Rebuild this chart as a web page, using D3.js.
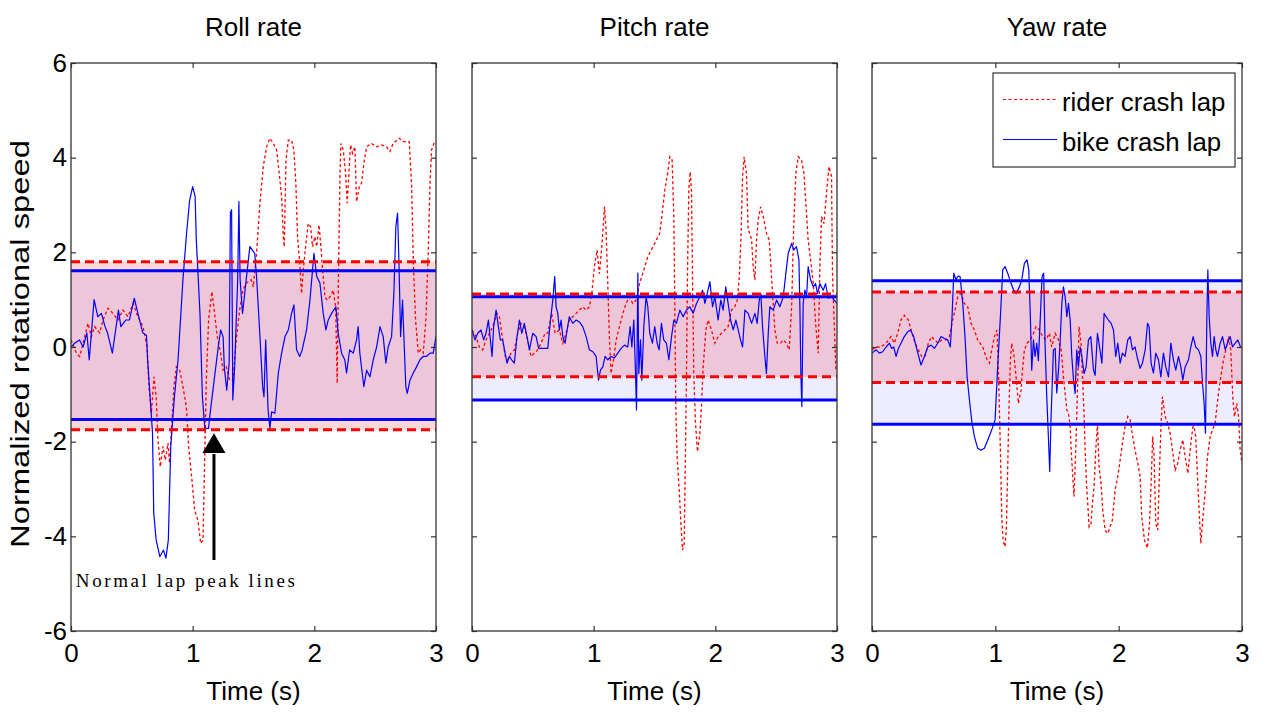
<!DOCTYPE html>
<html><head><meta charset="utf-8">
<script src="https://cdn.jsdelivr.net/npm/d3@7"></script>
<style>
body{margin:0;background:#fff}
svg{display:block}
text{font-family:"Liberation Sans",Arial,Helvetica,sans-serif}
text.serif{font-family:"Liberation Serif","Times New Roman",serif}
</style>
</head><body>
<svg id="chart" width="1268" height="713"></svg>
<script>
// ---------- data ----------
const panelTitles = ["Roll rate", "Pitch rate", "Yaw rate"];
const seriesNames = ["rider crash lap", "bike crash lap"];
const xTicks = [0, 1, 2, 3];
const yTicks = [-6, -4, -2, 0, 2, 4, 6];
const xLabel = "Time (s)";
const yLabel = "Normalized rotational speed";
const annotationText = "Normal lap peak lines";

// normal-lap peak bands [low, high]
const rollRiderBand = [-1.75, 1.80];
const rollBikeBand = [-1.53, 1.61];
const pitchRiderBand = [-0.63, 1.12];
const pitchBikeBand = [-1.12, 1.06];
const yawRiderBand = [-0.75, 1.16];
const yawBikeBand = [-1.63, 1.40];

// [time (s), normalized value]
const rollRider = [[0,0.15],[0.044,-0.13],[0.071,-0.2],[0.099,0.08],[0.14,0.5],[0.167,0.22],[0.194,0.43],[0.236,0.3],[0.263,0.57],[0.304,0.82],[0.345,0.71],[0.386,0.57],[0.427,0.78],[0.468,0.64],[0.51,0.92],[0.55,0.64],[0.592,0.43],[0.625,0],[0.641,-0.84],[0.66,-1.4],[0.682,-0.63],[0.70,-1.05],[0.715,-1.97],[0.734,-2.53],[0.756,-2.1],[0.775,-2.39],[0.797,-2.03],[0.81,-2.45],[0.824,-1.82],[0.846,-0.84],[0.866,-0.42],[0.893,-0.48],[0.92,-0.84],[0.948,-1.26],[0.967,-2.1],[0.994,-2.81],[1.016,-3.44],[1.043,-3.66],[1.066,-4.15],[1.085,-4.08],[1.098,-2.45],[1.112,-0.7],[1.131,0.57],[1.158,1.17],[1.18,0.71],[1.202,0.22],[1.23,-0.13],[1.249,-0.49],[1.276,-0.42],[1.304,-0.7],[1.331,-0.7],[1.358,0.15],[1.386,0.78],[1.413,1.2],[1.44,1.35],[1.481,1.42],[1.498,1.27],[1.525,1.98],[1.553,3.04],[1.58,3.81],[1.608,4.23],[1.635,4.41],[1.663,4.30],[1.69,4.16],[1.717,3.53],[1.731,3.18],[1.745,2.33],[1.753,2.12],[1.767,3.95],[1.786,4.37],[1.813,4.37],[1.832,4.16],[1.849,3.39],[1.862,2.33],[1.88,1.77],[1.895,1.13],[1.909,1.63],[1.928,2.12],[1.95,2.61],[1.97,2.54],[1.985,2.12],[2.005,2.33],[2.02,2.12],[2.038,2.58],[2.052,2.19],[2.068,1.63],[2.087,1.06],[2.106,0.99],[2.128,1.06],[2.155,1.2],[2.175,0.85],[2.188,-0.77],[2.197,1.27],[2.21,3.53],[2.218,4.30],[2.238,4.16],[2.257,3.67],[2.27,3.04],[2.284,3.67],[2.298,4.27],[2.314,4.09],[2.333,4.23],[2.347,3.07],[2.37,3.39],[2.388,3.46],[2.407,3.88],[2.43,4.23],[2.47,4.3],[2.512,4.23],[2.553,4.27],[2.594,4.23],[2.621,4.13],[2.648,4.3],[2.698,4.41],[2.73,4.34],[2.78,4.34],[2.8,3.39],[2.813,1.84],[2.832,0.57],[2.854,-0.13],[2.873,-0.06],[2.895,-0.13],[2.917,0.57],[2.936,1.98],[2.95,3.39],[2.963,4.16],[2.983,4.3],[3.0,4.3]];
const rollBike = [[0,0],[0.03,0.08],[0.07,0.15],[0.10,0],[0.13,0.3],[0.15,-0.27],[0.19,1.0],[0.22,0.64],[0.25,0.71],[0.28,0.43],[0.30,0.3],[0.34,-0.13],[0.39,0.78],[0.41,0.43],[0.45,0.57],[0.48,0.57],[0.52,1.03],[0.55,0.71],[0.59,0.3],[0.62,0.25],[0.63,-0.27],[0.65,-1.05],[0.67,-1.82],[0.68,-3.5],[0.70,-4.08],[0.73,-4.43],[0.76,-4.29],[0.78,-4.46],[0.80,-4.08],[0.82,-2.1],[0.85,-1.05],[0.88,-0.27],[0.92,1.42],[0.95,2.41],[0.975,3.1],[1.00,3.39],[1.02,3.18],[1.03,2.26],[1.06,0.71],[1.08,-1.05],[1.10,-1.72],[1.13,-1.72],[1.15,-1.26],[1.18,-0.63],[1.21,0],[1.23,0.36],[1.25,0.22],[1.26,-0.42],[1.28,-0.91],[1.30,-0.34],[1.31,2.83],[1.32,2.9],[1.33,-1.12],[1.345,-0.42],[1.37,1.42],[1.38,3.07],[1.39,1.42],[1.41,0.71],[1.44,1.42],[1.47,2.12],[1.49,2.05],[1.51,1.98],[1.525,1.49],[1.553,0.22],[1.575,-0.84],[1.586,-1.05],[1.60,0.15],[1.62,-1.33],[1.635,-1.72],[1.649,-1.37],[1.676,-1.4],[1.704,-0.55],[1.731,-0.13],[1.759,0.22],[1.786,0.36],[1.813,0.71],[1.832,0.89],[1.854,-0.06],[1.88,-0.2],[1.90,-0.06],[1.936,0.36],[1.964,0.99],[1.997,1.98],[2.02,1.49],[2.046,1.35],[2.073,0.71],[2.095,0.36],[2.114,0.57],[2.142,0.71],[2.177,0.85],[2.196,0.29],[2.224,-0.13],[2.25,-0.27],[2.265,-0.55],[2.29,-0.06],[2.32,-0.13],[2.347,0.15],[2.36,0.43],[2.374,-0.13],[2.407,-0.84],[2.43,-0.49],[2.457,-0.63],[2.484,-0.27],[2.512,0],[2.54,0.43],[2.566,0.22],[2.588,-0.34],[2.607,0],[2.635,0.22],[2.654,1.14],[2.67,2.54],[2.684,2.83],[2.695,1.84],[2.709,0.22],[2.725,0.99],[2.736,0.22],[2.752,-0.84],[2.764,-0.98],[2.786,-0.7],[2.813,-0.55],[2.84,-0.42],[2.868,-0.27],[2.895,-0.2],[2.922,-0.2],[2.95,-0.13],[2.977,-0.13],[3.0,0.22]];

const pitchRider = [[0,0.36],[0.033,0.22],[0.06,0],[0.088,-0.06],[0.115,0.15],[0.143,0.29],[0.17,0.43],[0.206,0.71],[0.225,0.64],[0.252,0.15],[0.274,-0.2],[0.294,-0.27],[0.321,-0.13],[0.348,-0.06],[0.376,0.29],[0.403,0.5],[0.43,0.43],[0.458,0.15],[0.485,-0.2],[0.513,-0.13],[0.54,-0.06],[0.568,0.08],[0.60,0.29],[0.622,0.29],[0.655,0.71],[0.683,0.29],[0.718,0.36],[0.746,0.08],[0.773,0.29],[0.80,0.57],[0.828,0.64],[0.856,0.71],[0.91,0.85],[0.938,0.78],[0.965,0.85],[0.985,1.13],[1.006,1.7],[1.028,2.05],[1.047,1.55],[1.067,2.12],[1.089,2.96],[1.102,2.47],[1.116,1.34],[1.13,0.15],[1.143,-0.56],[1.163,-0.27],[1.185,0.15],[1.212,0.43],[1.24,0.71],[1.267,0.92],[1.294,1.06],[1.321,0.92],[1.349,0.99],[1.377,1.34],[1.404,1.56],[1.445,1.91],[1.502,2.19],[1.543,2.4],[1.563,2.82],[1.585,3.32],[1.612,3.74],[1.626,4.02],[1.645,3.95],[1.659,2.75],[1.667,0.85],[1.675,-1.26],[1.686,-2.32],[1.703,-3.02],[1.717,-3.72],[1.73,-4.29],[1.744,-4.15],[1.752,-2.67],[1.763,-0.56],[1.771,1.56],[1.782,3.32],[1.793,3.7],[1.804,3.32],[1.812,1.56],[1.823,-0.56],[1.837,-1.61],[1.853,-2.21],[1.873,-1.82],[1.886,-1.26],[1.9,-0.42],[1.922,0.36],[1.941,0.57],[1.968,0.36],[1.996,0.08],[2.023,0.22],[2.051,0.29],[2.078,0.36],[2.105,0.43],[2.133,0.78],[2.16,0.85],[2.18,0.99],[2.196,1.42],[2.21,2.26],[2.224,3.6],[2.237,4.02],[2.256,3.67],[2.27,2.47],[2.284,2.4],[2.298,2.26],[2.311,1.7],[2.325,1.42],[2.339,2.26],[2.352,2.68],[2.372,2.96],[2.394,2.75],[2.421,2.4],[2.443,2.26],[2.457,1.7],[2.47,1.13],[2.489,0.36],[2.509,0.08],[2.536,0.08],[2.558,0.15],[2.585,0.08],[2.607,-0.06],[2.627,0.85],[2.645,2.61],[2.662,3.67],[2.681,4.02],[2.709,3.95],[2.728,3.67],[2.744,3.04],[2.763,2.26],[2.783,1.84],[2.805,1.34],[2.824,0.5],[2.846,-0.13],[2.859,1.7],[2.873,2.75],[2.893,2.61],[2.914,3.25],[2.934,3.81],[2.955,3.6],[2.963,1.56],[2.977,0.5],[2.991,-0.49]];
const pitchBike = [[0,0.36],[0.025,0.15],[0.047,0.29],[0.074,0.36],[0.096,0.15],[0.115,0.29],[0.135,0.57],[0.151,0.15],[0.165,-0.2],[0.178,0.43],[0.198,0.78],[0.217,0.43],[0.233,0.15],[0.252,0.15],[0.272,-0.13],[0.288,-0.34],[0.307,-0.2],[0.326,-0.27],[0.348,-0.34],[0.37,0.22],[0.39,0.57],[0.409,0.29],[0.43,0.5],[0.452,0.22],[0.472,-0.06],[0.499,0.29],[0.527,0.22],[0.548,-0.03],[0.581,-0.03],[0.623,-0.03],[0.645,0.57],[0.664,0.99],[0.68,1.49],[0.691,0.85],[0.705,0.71],[0.718,0.36],[0.732,0.57],[0.746,0.22],[0.765,0.08],[0.782,0.36],[0.80,0.64],[0.828,0.5],[0.856,0.57],[0.883,0.53],[0.91,0.43],[0.938,0.22],[0.965,-0.06],[0.993,-0.1],[1.02,-0.2],[1.04,-0.7],[1.056,-0.49],[1.075,-0.42],[1.094,-0.2],[1.116,-0.27],[1.143,-0.2],[1.171,-0.23],[1.198,-0.13],[1.226,-0.03],[1.253,0.04],[1.28,0],[1.30,0.43],[1.314,0],[1.33,0.57],[1.344,-0.56],[1.352,-1.33],[1.363,1.56],[1.371,-0.56],[1.385,0.15],[1.396,-0.7],[1.412,0.43],[1.431,1.06],[1.445,0.85],[1.461,0.29],[1.483,0.08],[1.502,0.43],[1.522,0.08],[1.538,-0.06],[1.557,0.5],[1.576,0.15],[1.598,0.08],[1.618,-0.27],[1.64,0.22],[1.659,0.57],[1.68,0.5],[1.708,0.78],[1.735,0.64],[1.763,0.78],[1.79,0.85],[1.818,0.71],[1.845,0.92],[1.873,1.06],[1.895,1.2],[1.914,0.92],[1.933,1.13],[1.955,1.38],[1.977,0.85],[1.996,1.06],[2.023,0.57],[2.045,0.99],[2.064,0.78],[2.086,1.27],[2.105,0.92],[2.125,0.57],[2.147,0.36],[2.169,0.57],[2.188,0.36],[2.207,0.15],[2.224,0],[2.243,0.78],[2.27,0.71],[2.298,0.5],[2.325,0.71],[2.344,0.5],[2.361,0.99],[2.374,1.13],[2.388,0.43],[2.407,-0.2],[2.42,-0.56],[2.435,0.29],[2.448,0.85],[2.476,0.78],[2.503,0.99],[2.53,0.85],[2.558,1.06],[2.58,1.56],[2.599,1.98],[2.627,2.19],[2.645,2.05],[2.667,2.12],[2.687,1.84],[2.695,0.85],[2.703,-0.56],[2.711,-1.26],[2.722,0.92],[2.736,1.2],[2.75,1.06],[2.763,1.7],[2.783,1.42],[2.805,1.27],[2.824,1.34],[2.84,1.13],[2.859,1.34],[2.887,1.2],[2.906,1.34],[2.928,1.03],[2.955,1.06],[2.977,0.99],[3.0,0.92]];

const yawRider = [[0,-0.06],[0.033,0],[0.073,0],[0.114,0.08],[0.154,0.22],[0.181,0.08],[0.208,0.29],[0.235,0.57],[0.262,0.67],[0.295,0.57],[0.322,0.32],[0.349,0.08],[0.376,-0.06],[0.403,-0.2],[0.43,-0.2],[0.457,0.08],[0.484,0.22],[0.506,0.15],[0.538,0.08],[0.565,0.15],[0.6,0.15],[0.627,0.22],[0.654,0.57],[0.673,0.78],[0.695,1.06],[0.722,1.13],[0.749,0.92],[0.776,0.85],[0.803,0.5],[0.83,0.36],[0.857,0.15],[0.898,0],[0.933,-0.27],[0.952,-0.34],[0.971,-0.06],[0.992,0.22],[1.014,0.36],[1.028,-0.77],[1.041,-2.18],[1.052,-3.58],[1.063,-4.08],[1.079,-4.22],[1.09,-3.8],[1.1,-2.6],[1.109,-1.47],[1.122,-0.27],[1.133,0.08],[1.149,-0.13],[1.168,-0.63],[1.187,-1.19],[1.209,-0.91],[1.222,-0.42],[1.236,-0.06],[1.257,0.08],[1.284,0.15],[1.309,0.29],[1.33,0.43],[1.357,0.36],[1.384,0.22],[1.411,0.15],[1.438,0.29],[1.457,0],[1.485,0.29],[1.512,0.15],[1.534,-0.06],[1.552,-0.63],[1.566,-0.98],[1.58,-1.33],[1.593,-1.4],[1.607,-1.68],[1.615,-2.18],[1.628,-2.74],[1.638,-3.16],[1.652,-2.18],[1.666,-0.91],[1.679,0.43],[1.695,0.08],[1.709,-0.77],[1.72,-1.47],[1.728,-2.18],[1.739,-2.88],[1.749,-3.3],[1.76,-3.8],[1.776,-3.73],[1.787,-3.3],[1.801,-2.95],[1.814,-2.18],[1.828,-1.61],[1.841,-2.53],[1.857,-2.88],[1.871,-3.44],[1.89,-3.87],[1.912,-3.94],[1.93,-3.8],[1.949,-3.66],[1.971,-3.02],[1.993,-2.74],[2.012,-2.39],[2.03,-2.04],[2.052,-1.68],[2.074,-1.47],[2.093,-1.54],[2.114,-1.89],[2.133,-2.18],[2.155,-2.46],[2.174,-2.74],[2.187,-3.58],[2.209,-4.08],[2.233,-4.25],[2.25,-3.73],[2.263,-2.88],[2.276,-1.89],[2.287,-2.32],[2.301,-3.73],[2.317,-3.87],[2.331,-2.6],[2.344,-1.61],[2.355,-1.05],[2.377,-1.47],[2.398,-1.61],[2.417,-1.82],[2.436,-2.18],[2.458,-2.6],[2.479,-2.46],[2.498,-2.18],[2.52,-1.96],[2.539,-2.32],[2.561,-2.67],[2.574,-2.32],[2.588,-1.96],[2.607,-1.61],[2.625,-1.89],[2.639,-2.74],[2.652,-3.44],[2.666,-4.15],[2.679,-3.73],[2.693,-3.3],[2.707,-2.88],[2.72,-2.32],[2.742,-1.89],[2.761,-1.75],[2.782,-1.61],[2.809,-0.98],[2.828,-0.63],[2.85,-0.27],[2.869,-0.06],[2.891,0.22],[2.909,-0.06],[2.925,-1.05],[2.939,-1.47],[2.958,-1.19],[2.972,-1.47],[2.985,-2.18],[3.0,-2.46]];
const yawBike = [[0,-0.13],[0.033,-0.06],[0.06,-0.13],[0.087,-0.1],[0.114,0],[0.141,0.08],[0.16,-0.03],[0.176,0],[0.195,-0.2],[0.214,-0.03],[0.235,0.08],[0.262,0.22],[0.289,0.32],[0.311,0.36],[0.338,0.22],[0.365,-0.06],[0.397,-0.38],[0.425,-0.2],[0.452,0],[0.479,0.04],[0.506,-0.03],[0.533,0.08],[0.56,0.22],[0.587,0.18],[0.614,0.15],[0.635,0],[0.649,0.64],[0.663,1.56],[0.681,1.42],[0.695,1.49],[0.714,1.49],[0.736,0.92],[0.754,0.22],[0.771,-0.63],[0.79,-1.12],[0.811,-1.61],[0.83,-1.89],[0.857,-2.14],[0.884,-2.18],[0.911,-2.14],[0.938,-1.97],[0.971,-1.75],[0.998,-1.54],[1.019,-0.42],[1.041,0.64],[1.06,1.63],[1.079,1.7],[1.1,1.56],[1.128,1.34],[1.149,1.2],[1.168,1.13],[1.195,1.27],[1.214,1.42],[1.236,1.77],[1.257,1.84],[1.271,1.63],[1.284,0.64],[1.295,-0.49],[1.309,0.15],[1.322,-0.2],[1.336,0.08],[1.349,-0.29],[1.365,0.64],[1.379,1.49],[1.392,1.56],[1.403,0.08],[1.417,-1.05],[1.43,-1.89],[1.441,-2.63],[1.452,-1.47],[1.471,-0.06],[1.485,-0.03],[1.498,-0.97],[1.512,-0.49],[1.525,0.08],[1.539,0.92],[1.552,1.27],[1.566,1.06],[1.58,0.64],[1.593,0.92],[1.607,0.57],[1.62,-0.2],[1.634,-0.7],[1.647,-0.98],[1.66,-0.06],[1.674,-0.42],[1.688,0],[1.701,-0.2],[1.72,-0.56],[1.736,-0.42],[1.755,0.15],[1.774,0.22],[1.796,-0.49],[1.809,-0.6],[1.828,0.29],[1.845,0],[1.864,-0.34],[1.882,0.71],[1.898,0.64],[1.917,0.57],[1.939,0.5],[1.958,0.36],[1.976,-0.2],[1.993,0.08],[2.012,-0.34],[2.03,-0.13],[2.052,-0.2],[2.074,0.15],[2.093,0.22],[2.112,-0.06],[2.133,0],[2.155,-0.27],[2.174,-0.45],[2.193,-0.34],[2.215,-0.06],[2.234,0.5],[2.247,0.43],[2.263,-0.34],[2.282,-0.55],[2.301,-0.13],[2.323,-0.27],[2.342,-0.63],[2.363,-0.13],[2.382,-0.42],[2.404,-0.63],[2.423,0.08],[2.444,-0.27],[2.463,-0.49],[2.485,-0.2],[2.504,-0.42],[2.52,-0.7],[2.539,-0.42],[2.566,-0.27],[2.585,0],[2.604,0.22],[2.625,0],[2.647,-0.06],[2.666,-0.2],[2.68,-0.77],[2.693,-1.19],[2.704,-1.82],[2.715,0.64],[2.723,1.63],[2.734,0.64],[2.747,0.08],[2.761,-0.2],[2.774,0.22],[2.788,-0.06],[2.801,-0.2],[2.823,0.08],[2.842,0.22],[2.864,-0.06],[2.882,0.08],[2.904,0.22],[2.923,0],[2.945,0.08],[2.966,0.15],[2.988,0]];

// ---------- layout ----------
const panels = [
  {title: panelTitles[0], rider: rollRider, bike: rollBike, riderBand: rollRiderBand, bikeBand: rollBikeBand, x0: 71, x1: 436},
  {title: panelTitles[1], rider: pitchRider, bike: pitchBike, riderBand: pitchRiderBand, bikeBand: pitchBikeBand, x0: 472, x1: 837},
  {title: panelTitles[2], rider: yawRider, bike: yawBike, riderBand: yawRiderBand, bikeBand: yawBikeBand, x0: 872, x1: 1242}
];
const yTop = 63, yBot = 631;
const RED = "#ff0000", BLUE = "#0000ff", AX = "#333";
const FS = 26;

const svg = d3.select("#chart");
const y = d3.scaleLinear().domain([-6, 6]).range([yBot, yTop]);

panels.forEach((p, i) => {
  const x = d3.scaleLinear().domain([0, 3]).range([p.x0, p.x1]);
  const g = svg.append("g");
  const clipId = "clip" + i;
  g.append("clipPath").attr("id", clipId).append("rect")
    .attr("x", p.x0).attr("y", yTop).attr("width", p.x1 - p.x0).attr("height", yBot - yTop);

  const plot = g.append("g").attr("clip-path", `url(#${clipId})`);
  // bands
  plot.append("rect").attr("x", p.x0).attr("width", p.x1 - p.x0)
    .attr("y", y(p.riderBand[1])).attr("height", y(p.riderBand[0]) - y(p.riderBand[1]))
    .attr("fill", "rgba(255,0,0,0.157)");
  plot.append("rect").attr("x", p.x0).attr("width", p.x1 - p.x0)
    .attr("y", y(p.bikeBand[1])).attr("height", y(p.bikeBand[0]) - y(p.bikeBand[1]))
    .attr("fill", "rgba(0,0,255,0.07)");

  const line = d3.line().x(d => x(d[0])).y(d => y(d[1]));
  plot.append("path").datum(p.rider).attr("d", line).attr("fill", "none")
    .attr("stroke", RED).attr("stroke-width", 1.3).attr("stroke-dasharray", "3,2.5");
  plot.append("path").datum(p.bike).attr("d", line).attr("fill", "none")
    .attr("stroke", BLUE).attr("stroke-width", 1.2).attr("stroke-linejoin", "round");

  // band lines
  p.bikeBand.forEach(b => plot.append("line").attr("x1", p.x0).attr("x2", p.x1)
    .attr("y1", y(b)).attr("y2", y(b)).attr("stroke", BLUE).attr("stroke-width", 3));
  p.riderBand.forEach(b => plot.append("line").attr("x1", p.x0).attr("x2", p.x1)
    .attr("y1", y(b)).attr("y2", y(b)).attr("stroke", RED).attr("stroke-width", 3)
    .attr("stroke-dasharray", "9,5"));

  // axes
  const styleAxis = sel => {
    sel.select(".domain").remove();
    sel.selectAll(".tick line").attr("stroke", AX).attr("stroke-width", 1.2);
    sel.selectAll("text").attr("font-size", FS).attr("fill", "#000");
  };
  g.append("g").attr("transform", `translate(0,${yBot})`)
    .call(d3.axisBottom(x).tickValues(xTicks).tickSize(-5).tickPadding(13).tickFormat(d => String(d)))
    .call(styleAxis);
  g.append("g").attr("transform", `translate(0,${yTop})`)
    .call(d3.axisTop(x).tickValues(xTicks).tickSize(-5).tickFormat(""))
    .call(styleAxis);
  g.append("g").attr("transform", `translate(${p.x0},0)`)
    .call(d3.axisLeft(y).tickValues(yTicks).tickSize(-5).tickPadding(4)
      .tickFormat(i === 0 ? (d => String(d)) : ""))
    .call(styleAxis);
  g.append("g").attr("transform", `translate(${p.x1},0)`)
    .call(d3.axisRight(y).tickValues(yTicks).tickSize(-5).tickFormat(""))
    .call(styleAxis);

  g.append("rect").attr("x", p.x0).attr("y", yTop).attr("width", p.x1 - p.x0).attr("height", yBot - yTop)
    .attr("fill", "none").attr("stroke", AX).attr("stroke-width", 1.3);

  // title & x label
  g.append("text").attr("x", (p.x0 + p.x1) / 2).attr("y", 36).attr("text-anchor", "middle")
    .attr("font-size", FS).text(p.title);
  g.append("text").attr("x", (p.x0 + p.x1) / 2).attr("y", 700).attr("text-anchor", "middle")
    .attr("font-size", FS).text(xLabel);

  // legend in last panel
  if (i === 2) {
    const lg = g.append("g");
    lg.append("rect").attr("x", 993).attr("y", 73).attr("width", 242).attr("height", 94)
      .attr("fill", "#fff").attr("stroke", AX).attr("stroke-width", 1.2);
    const items = [{name: seriesNames[0], color: RED, dash: "3,2.5", yy: 99.5},
                   {name: seriesNames[1], color: BLUE, dash: null, yy: 139.5}];
    items.forEach(it => {
      lg.append("line").attr("x1", 1003).attr("x2", 1057).attr("y1", it.yy).attr("y2", it.yy)
        .attr("stroke", it.color).attr("stroke-width", 1.2).attr("stroke-dasharray", it.dash);
      lg.append("text").attr("x", 1062).attr("y", it.yy + 11).attr("font-size", 25.8).text(it.name);
    });
  }

  // annotation in first panel
  if (i === 0) {
    const ax = x(1.175);
    const tipY = y(-1.82), baseY = y(-2.24), tailY = y(-4.5);
    g.append("line").attr("x1", ax).attr("x2", ax).attr("y1", tailY).attr("y2", baseY + 1)
      .attr("stroke", "#000").attr("stroke-width", 3);
    g.append("path").attr("d", `M${ax},${tipY}L${ax - 11.5},${baseY}L${ax + 11.5},${baseY}Z`).attr("fill", "#000");
    g.append("text").attr("class", "serif").attr("x", x(0.04)).attr("y", y(-5.06))
      .attr("font-size", 19).attr("textLength", 219).attr("lengthAdjust", "spacing")
      .text(annotationText);
  }
});

// y label
svg.append("text").attr("transform", "translate(29,344) rotate(-90)")
  .attr("text-anchor", "middle").attr("font-size", FS)
  .attr("textLength", 408).attr("lengthAdjust", "spacingAndGlyphs")
  .text(yLabel);
</script>
</body></html>
